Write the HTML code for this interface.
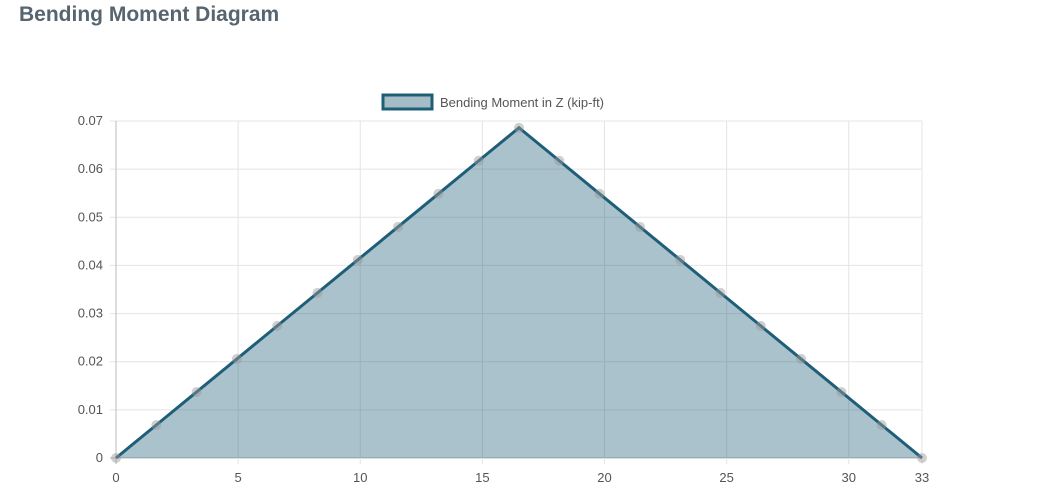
<!DOCTYPE html>
<html><head><meta charset="utf-8"><style>
body{margin:0;background:#fff;width:1042px;height:492px;overflow:hidden;font-family:"Liberation Sans",sans-serif}
h1{position:absolute;left:19px;top:3px;margin:0;font-size:21px;font-weight:bold;color:#56656f;font-family:"Liberation Sans",sans-serif}
</style></head><body>
<h1>Bending Moment Diagram</h1>
<svg id="c" width="1042" height="492" style="position:absolute;left:0;top:0"></svg>
<script>
const xValues=[0,1.65,3.3,4.95,6.6,8.25,9.9,11.55,13.2,14.85,16.5,18.15,19.8,21.45,23.1,24.75,26.4,28.05,29.7,31.35,33];
const momentValues=[0,0.00686,0.01372,0.02058,0.02744,0.0343,0.04116,0.04802,0.05488,0.06174,0.0686,0.06174,0.05488,0.04802,0.04116,0.0343,0.02744,0.02058,0.01372,0.00686,0];
const xTicks=[0,5,10,15,20,25,30,33];
const yTicks=[0,0.01,0.02,0.03,0.04,0.05,0.06,0.07];
const NS='http://www.w3.org/2000/svg',svg=document.getElementById('c');
const X0=116,X1=922,Y0=458,Y1=121;
const sx=v=>X0+(v-0)/(33)*(X1-X0), sy=v=>Y0-v/0.07*(Y0-Y1);
function mk(t,a,p){const e=document.createElementNS(NS,t);for(const k in a)e.setAttribute(k,a[k]);(p||svg).appendChild(e);return e;}
yTicks.forEach(t=>{
 const l=mk('line',{x1:X0-6,x2:X1,y1:sy(t),y2:sy(t),stroke:t===0?'#bbb':'#e4e4e4','stroke-width':1});
 
 
 const tx=mk('text',{x:X0-13,y:sy(t)+4,'text-anchor':'end','font-size':13,fill:'#555'});tx.textContent=String(t);
 
 
});
xTicks.forEach(t=>{
 const l=mk('line',{x1:sx(t),x2:sx(t),y1:Y1,y2:Y0+6,stroke:t===0?'#bbb':'#e4e4e4','stroke-width':1});
 
 
 const tx=mk('text',{x:sx(t),y:Y0+24,'text-anchor':'middle','font-size':13,fill:'#555'});tx.textContent=String(t);
 
 
});
let d=xValues.map((x,i)=>(i?'L':'M')+sx(x)+','+sy(momentValues[i])).join(' ');
const area=mk('path',{d:d+' L'+sx(xValues[xValues.length-1])+','+sy(0)+' L'+sx(xValues[0])+','+sy(0)+'Z',fill:'rgba(31,94,120,0.38)'});


const line=mk('path',{d:d,fill:'none',stroke:'#1f5e78','stroke-width':3});


xValues.forEach((x,i)=>{
 const c=mk('circle',{cx:sx(x),cy:sy(momentValues[i]),r:5,fill:'rgba(150,150,150,0.45)'});
 
 
});
const g=mk('g',{});


mk('rect',{x:383,y:95,width:49,height:14,fill:'#a6bdc7',stroke:'#1f5e78','stroke-width':3},g);
const lt=mk('text',{x:440,y:107,'font-size':13,fill:'#555'},g);lt.textContent='Bending Moment in Z (kip-ft)';
</script>
</body></html>
